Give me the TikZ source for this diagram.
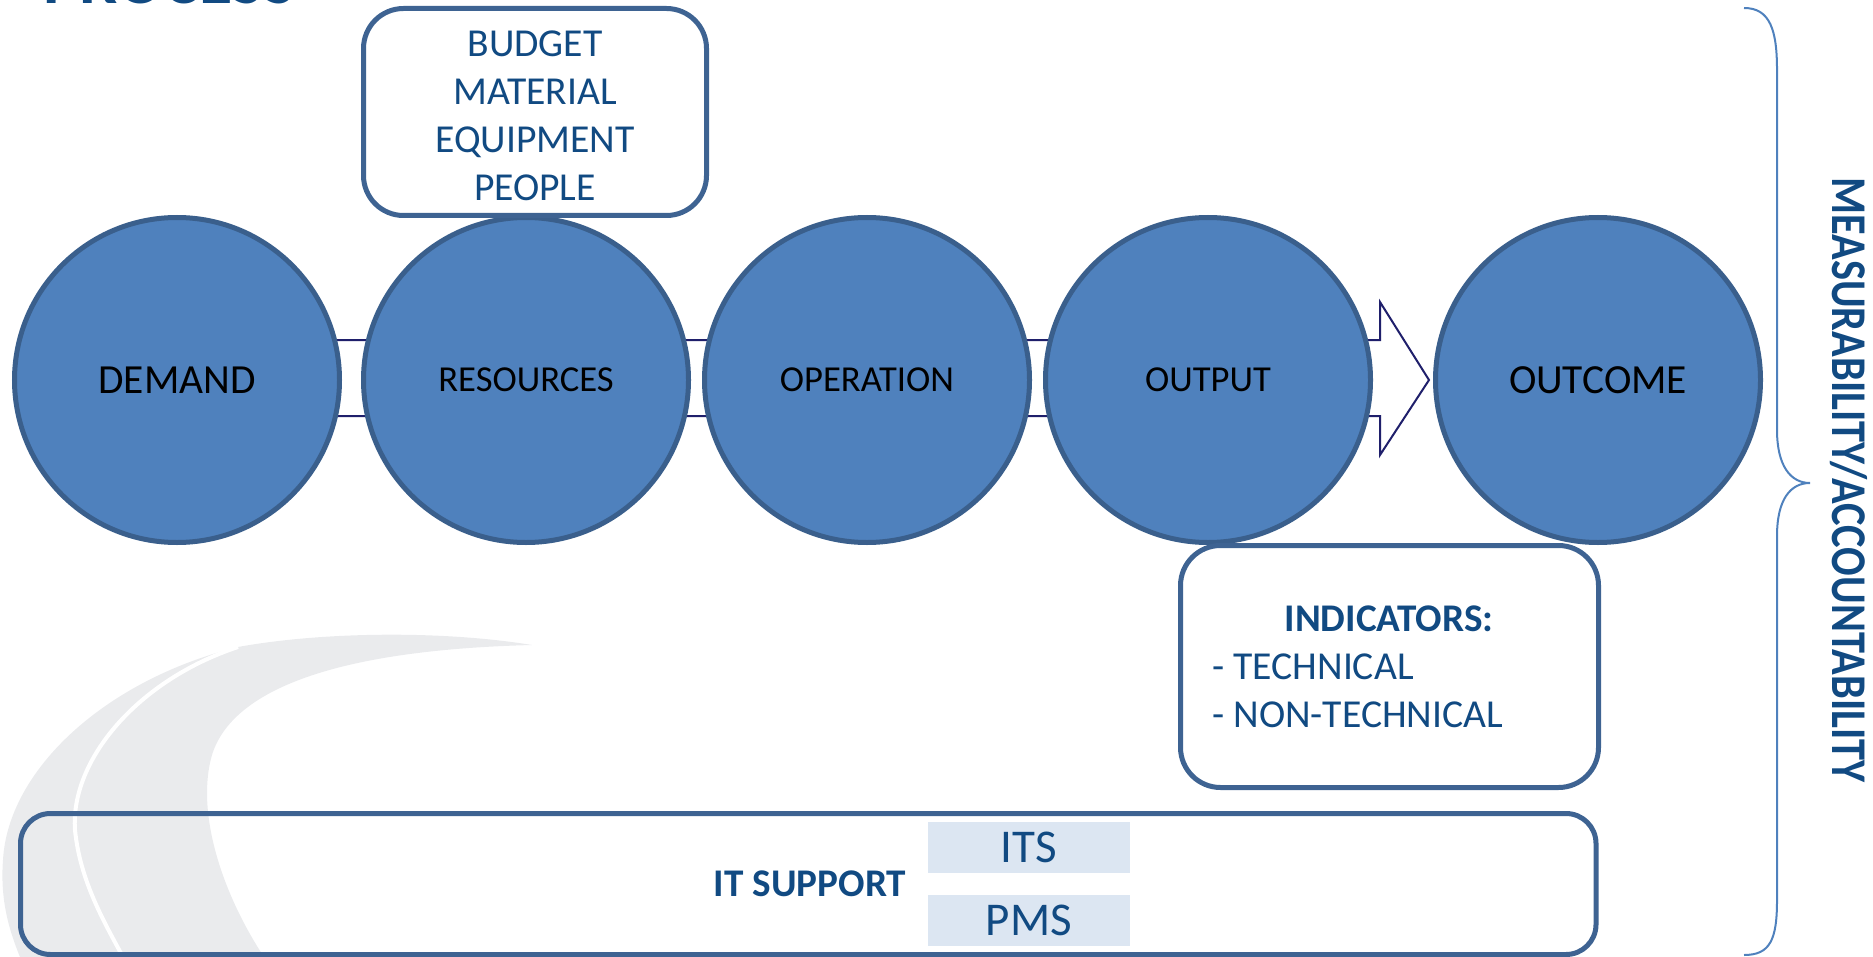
\documentclass[tikz,border=0pt]{standalone}
\usepackage{fontspec}
\setmainfont{Carlito}
\usetikzlibrary{calc}
\definecolor{circfill}{HTML}{4F81BD}
\definecolor{circdraw}{HTML}{3A5F8C}
\definecolor{boxdraw}{HTML}{3E6392}
\definecolor{txtblue}{HTML}{114A82}
\definecolor{arrowcol}{HTML}{1F1F6B}
\definecolor{bracecol}{HTML}{4F81BD}
\definecolor{swooshcol}{HTML}{EAEBED}
\definecolor{itfill}{HTML}{DCE6F2}
\tikzset{
  circ/.style={circle, fill=circfill, draw=circdraw, line width=2.5pt, minimum size=162.5pt, inner sep=0pt, text=black, font=\fontsize{18.3}{22}\selectfont},
  bigtext/.style={font=\fontsize{20.7}{24}\selectfont},
  box/.style={draw=boxdraw, line width=2.5pt, rounded corners=20pt, fill=white, inner sep=0pt},
  boxtext/.style={text=txtblue, font=\fontsize{19.8}{24}\selectfont, inner sep=0pt},
  boldtext/.style={text=txtblue, font=\bfseries\fontsize{19.6}{24}\selectfont, inner sep=0pt},
  itbox/.style={fill=itfill, inner sep=0pt, minimum width=101pt, minimum height=25.5pt, text=txtblue, font=\fontsize{23.5}{28}\selectfont},
  arrowline/.style={draw=arrowcol, line width=1pt, fill=white, line join=miter},
}
\begin{document}
\begin{tikzpicture}[x=0.5pt,y=-0.5pt]
\useasboundingbox (0,0) rectangle (1873,957);
% background swoosh
\fill[swooshcol] (532,645) .. controls (440,630) and (320,632) .. (238,647)
  .. controls (105,680) and (8,770) .. (3,860)
  .. controls (0,900) and (9,930) .. (20,957) -- (264,957)
  .. controls (220,890) and (196,810) .. (212,755)
  .. controls (232,690) and (335,650) .. (532,645) -- cycle;
\draw[white, line width=2pt] (238,647) .. controls (138,680) and (70,760) .. (75,830)
  .. controls (80,880) and (103,920) .. (123,957);
% title (cut off at the top edge, as in the reference)
\node[anchor=base west, inner sep=0pt, text=txtblue, font=\bfseries\fontsize{34}{40}\selectfont] (title) at (43,4) {PROCESS};
% circle positions
\coordinate (demand) at (177,380);
\coordinate (resources) at (526,380);
\coordinate (operation) at (867,380);
\coordinate (output) at (1208,380);
\coordinate (outcome) at (1598,380);
\coordinate (hb) at (1380,378);
% process arrow behind circles
\draw[arrowline] ($(demand)+(0,-40)$) -- ($(hb)+(0,-38)$) -- ($(hb)+(0,-76)$)
  -- ($(outcome)+(-169,0)$) -- ($(hb)+(0,77)$) -- ($(hb)+(0,38)$)
  -- ($(demand)+(0,36)$) -- cycle;
% circles on top
\node[circ, bigtext] (n1) at (demand) {DEMAND};
\node[circ] (n2) at (resources) {RESOURCES};
\node[circ] (n3) at (operation) {OPERATION};
\node[circ] (n4) at (output) {OUTPUT};
\node[circ, bigtext] (n5) at (outcome) {OUTCOME};
% budget box
\node[box, minimum width=171.5pt, minimum height=103.5pt] (budget) at (535,112) {};
\node[boxtext, align=center] (budgett) at (535,116) {BUDGET\\MATERIAL\\EQUIPMENT\\PEOPLE};
% indicators box
\node[box, minimum width=209pt, minimum height=121pt] (ind) at (1389.5,666.5) {};
\node[boldtext, anchor=base] (indt) at (1389,631) {INDICATORS:};
\node[boxtext, anchor=base west] (tech) at (1212,679) {- TECHNICAL};
\node[boxtext, anchor=base west] (ntech) at (1212,727) {- NON-TECHNICAL};
% IT support
\node[draw=boxdraw, line width=2.5pt, rounded corners=15pt, minimum width=787.75pt, minimum height=70.5pt, inner sep=0pt] (it) at (808.25,884) {};
\node[boldtext] (itt) at (810,884) {IT SUPPORT};
\node[itbox] (its) at (1029,847.5) {ITS};
\node[itbox] (pms) at (1029,920) {PMS};
% brace
\draw[bracecol, line width=1pt] (1744,8) .. controls (1770,8) and (1777,30) .. (1777,70)
  -- (1777,430) .. controls (1777,465) and (1790,483) .. (1810,483)
  .. controls (1790,483) and (1777,500) .. (1777,536)
  -- (1777,900) .. controls (1777,940) and (1770,955) .. (1744,955);
\node[rotate=-90, text=txtblue, inner sep=0pt, font=\bfseries\fontsize{25}{30}\selectfont] (meas) at (1849,480)
  {\scalebox{0.847}[1]{MEASURABILITY/ACCOUNTABILITY}};
\end{tikzpicture}
\end{document}
